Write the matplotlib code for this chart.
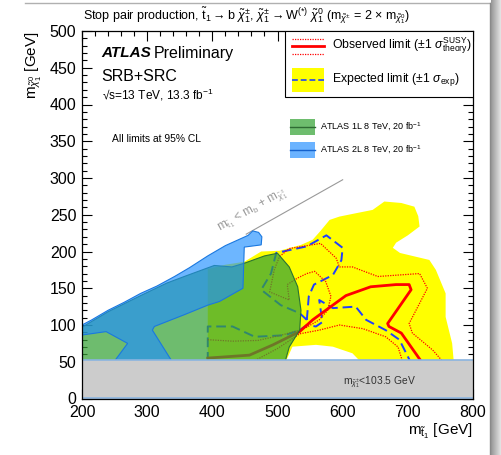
import matplotlib
matplotlib.use("Agg")
import matplotlib.pyplot as plt
import numpy as np
from matplotlib.patches import Rectangle
from matplotlib.lines import Line2D

plt.rcParams['font.family'] = ['Liberation Sans', 'DejaVu Sans']
plt.rcParams['mathtext.fontset'] = 'custom'
plt.rcParams['mathtext.rm'] = 'Liberation Sans'
plt.rcParams['mathtext.it'] = 'Liberation Sans:italic'
plt.rcParams['mathtext.bf'] = 'Liberation Sans:bold'

# ATLAS 2L 8 TeV exclusion contour (m_stop, m_neutralino)
run1_2l_x = [200, 215, 240, 265, 290, 315, 342, 365, 393, 420, 440, 455, 462, 471, 476, 475, 449,
             447, 411, 393, 357, 311, 308, 342, 245, 270, 237, 201, 200]
run1_2l_y = [100, 107, 120, 131, 143, 153, 166, 178, 194, 208, 216, 222, 228, 226, 220, 209, 206,
             150, 132, 127, 114, 98, 93, 45, 45, 75, 91, 86.5, 86.5]

# ATLAS 1L 8 TeV exclusion contour
run1_1l_x = [200, 200, 240, 290, 330, 357, 403, 430, 449, 480, 500, 518, 531, 536, 534, 518, 510]
run1_1l_y = [45, 97, 118, 140, 157, 166, 181, 179, 184, 194, 197.6, 179, 152, 120, 93, 70, 45]

# expected limit +-1 sigma band
exp_band_x = [393, 393, 420, 449, 475, 503, 536, 554, 566, 580, 595, 620, 646, 664, 690, 710, 716,
              718, 700, 682, 677, 688, 733, 743, 758, 758, 768, 771, 633, 615, 585, 559, 523, 510]
exp_band_y = [45, 176, 182, 186, 200, 201, 209, 216, 228, 243, 247.5, 252, 256.6, 268, 266, 261, 248,
              234, 222, 212, 205, 198, 188.5, 175, 143, 111, 75, 45, 45, 61.5, 70.5, 73, 70.5, 45]

# expected limit (two pieces)
exp_x = [393, 393, 431, 465, 511, 534, 545, 559, 569, 564, 585, 620, 636, 666, 687, 704]
exp_y = [50, 98, 98, 84, 86, 93, 100, 98, 104, 134, 123, 125, 107, 93, 80, 50]
exp_loop_x = [545, 548, 556, 585, 598, 600, 575, 545, 498, 490, 475, 505, 534, 545]
exp_loop_y = [107, 139, 155, 168, 188, 205, 222, 207, 198, 170, 148, 127, 116, 107]

# observed limit and +-1 sigma theory
obs_x = [393, 457, 493, 534, 554, 574, 605, 643, 682, 702, 705, 669, 671, 690, 721]
obs_y = [55, 59, 73, 91, 107, 120, 140, 152, 155, 155, 148, 102, 98, 89, 50]
obs_up_x = [393, 431, 470, 505, 534, 545, 564, 577, 582, 574, 557, 545, 531, 515, 518, 488, 495,
            503, 518, 566, 590, 595, 615, 654, 718, 730, 702, 707, 738, 754]
obs_up_y = [80, 78, 79, 86, 93, 97, 107, 120, 139, 159, 173, 170, 164, 155, 134, 145, 175,
            193, 204, 211, 191, 179, 179, 166, 170, 150, 102, 89, 66, 50]
obs_dn_x = [462, 500, 534, 564, 595, 631, 666, 685, 692]
obs_dn_y = [50, 68, 88, 93, 100, 95, 84, 70, 50]

lep_limit = 51.75
mb = 4.8
xticks = [200, 300, 400, 500, 600, 700, 800]
yticks = [0, 50, 100, 150, 200, 250, 300, 350, 400, 450, 500]

RED = '#ff0000'
BLUE = '#1f3fff'
YELLOW = '#ffff00'

fig = plt.figure(figsize=(5.01, 4.55), dpi=100)
ax = fig.add_axes([82 / 501, 1 - 398.5 / 455, 391 / 501, 367.5 / 455])
ax.set_xlim(200, 800)
ax.set_ylim(0, 500)

ax.fill(exp_band_x, exp_band_y, color=YELLOW, lw=0, zorder=1)

ax.plot([452, 600], [(452 - mb) / 2, (600 - mb) / 2], color='#999999', lw=0.8, zorder=1.5)

ax.plot(exp_x, exp_y, color=BLUE, lw=1.4, dashes=(5, 2.5), zorder=2)
ax.plot(exp_loop_x, exp_loop_y, color=BLUE, lw=1.4, dashes=(5, 2.5), zorder=2)
ax.plot(obs_up_x, obs_up_y, color=RED, lw=0.9, ls=(0, (1, 1)), zorder=2)
ax.plot(obs_dn_x, obs_dn_y, color=RED, lw=0.9, ls=(0, (1, 1)), zorder=2)
ax.plot(obs_x, obs_y, color=RED, lw=2.0, zorder=2.1)

ax.fill(run1_1l_x, run1_1l_y, facecolor=(0.22, 0.64, 0.22, 0.73),
        edgecolor=(0.16, 0.45, 0.2), lw=0.8, zorder=3)
ax.fill(run1_2l_x, run1_2l_y, facecolor=(0.12, 0.56, 1.0, 0.65),
        edgecolor=(0.1, 0.47, 0.88), lw=0.8, zorder=4)

ax.axhspan(0, lep_limit, color='#cccccc', lw=0, zorder=5)
ax.axhline(lep_limit, color='#8ab4e0', lw=1.2, zorder=5.1)
ax.axhline(0.6, color='#8ab4e0', lw=1.2, zorder=5.1)
ax.text(600.5, 23, r"m$_{\tilde{\chi}^{\pm}_1}$<103.5 GeV", fontsize=7.4, color='#333333',
        va='center', ha='left', zorder=6)

ax.text(462, 255, r"m$_{\tilde{\mathrm{t}}_1}$ < m$_\mathrm{b}$ + m$_{\tilde{\chi}^{\pm}_1}$",
        fontsize=8.5, color='#999999', rotation=29.4, rotation_mode='anchor',
        ha='center', va='center', zorder=6)

# axes styling
ax.set_xticks(xticks)
ax.set_yticks(yticks)
ax.set_xticks(range(200, 801, 20), minor=True)
ax.set_yticks(range(0, 501, 10), minor=True)
ax.tick_params(which='both', direction='in', top=True, right=True, labelsize=11.5, width=0.8)
ax.tick_params(which='major', length=7.5)
ax.tick_params(which='minor', length=3.8)
ax.tick_params(axis='x', pad=5)
ax.tick_params(axis='y', pad=4)
for sp in ax.spines.values():
    sp.set_linewidth(0.9)
    sp.set_zorder(7)

ax.set_xlabel(r"m$_{\tilde{\mathrm{t}}_1}$ [GeV]", fontsize=11, loc='right', labelpad=1)
ax.set_ylabel(r"m$_{\tilde{\chi}^0_1}$ [GeV]", fontsize=11, loc='top', labelpad=4)

ax.text(0.002, 1.041,
        r"Stop pair production, $\tilde{\mathrm{t}}_1 \rightarrow \mathrm{b}\ \tilde{\chi}^{\pm}_1$, "
        r"$\tilde{\chi}^{\pm}_1 \rightarrow \mathrm{W}^{(*)}\ \tilde{\chi}^0_1$ "
        r"(m$_{\tilde{\chi}^{\pm}}$ = 2 $\times$ m$_{\tilde{\chi}^0_1}$)",
        transform=ax.transAxes, fontsize=9.0, va='center', ha='left')

# ATLAS label block
ax.text(0.050, 0.939, "ATLAS", transform=ax.transAxes, fontsize=11,
        fontweight='bold', fontstyle='italic', va='center', zorder=8)
ax.text(0.183, 0.939, "Preliminary", transform=ax.transAxes, fontsize=11.5, va='center', zorder=8)
ax.text(0.050, 0.876, "SRB+SRC", transform=ax.transAxes, fontsize=11.5, va='center', zorder=8)
ax.text(0.050, 0.826, "\u221as=13 TeV, 13.3 fb$^{-1}$", transform=ax.transAxes,
        fontsize=8.6, va='center', zorder=8)
ax.text(0.076, 0.705, "All limits at 95% CL", transform=ax.transAxes, fontsize=7.4,
        va='center', zorder=8)

# legend for the 13 TeV limits
ax.add_patch(Rectangle((0.519, 0.820), 0.481, 0.18, transform=ax.transAxes,
                       facecolor='white', edgecolor='black', lw=0.8, zorder=8))
ax.add_line(Line2D([0.537, 0.619], [0.959, 0.959], transform=ax.transAxes, color=RED, lw=2.0, zorder=9))
for yy in (0.978, 0.937):
    ax.add_line(Line2D([0.537, 0.619], [yy, yy], transform=ax.transAxes, color=RED, lw=0.9,
                       ls=(0, (1, 1)), zorder=9))
ax.text(0.639, 0.959, r"Observed limit ($\pm$1 $\sigma^{\mathrm{SUSY}}_{\mathrm{theory}}$)",
        transform=ax.transAxes, fontsize=8.8, va='center', zorder=9)
ax.add_patch(Rectangle((0.537, 0.835), 0.082, 0.063, transform=ax.transAxes,
                       facecolor=YELLOW, lw=0, zorder=9))
ax.add_line(Line2D([0.537, 0.619], [0.867, 0.867], transform=ax.transAxes, color='#4060d0',
                   lw=1.4, dashes=(3, 1.5), zorder=9))
ax.text(0.639, 0.869, r"Expected limit ($\pm$1 $\sigma_{\mathrm{exp}}$)",
        transform=ax.transAxes, fontsize=8.8, va='center', zorder=9)

# legend for the 8 TeV results
ax.add_patch(Rectangle((0.532, 0.717), 0.064, 0.043, transform=ax.transAxes,
                       facecolor=(0.43, 0.74, 0.43), lw=0, zorder=9))
ax.add_line(Line2D([0.532, 0.596], [0.739, 0.739], transform=ax.transAxes, color=(0.18, 0.42, 0.2),
                   lw=1.0, zorder=9))
ax.text(0.609, 0.739, "ATLAS 1L 8 TeV, 20 fb$^{-1}$", transform=ax.transAxes, fontsize=6.5,
        va='center', zorder=9)
ax.add_patch(Rectangle((0.532, 0.655), 0.064, 0.044, transform=ax.transAxes,
                       facecolor=(0.42, 0.7, 1.0), lw=0, zorder=9))
ax.add_line(Line2D([0.532, 0.596], [0.676, 0.676], transform=ax.transAxes, color=(0.08, 0.38, 0.8),
                   lw=1.0, zorder=9))
ax.text(0.609, 0.676, "ATLAS 2L 8 TeV, 20 fb$^{-1}$", transform=ax.transAxes, fontsize=6.5,
        va='center', zorder=9)

# window edge around the canvas
fig.add_artist(Line2D([25 / 501, 490 / 501], [1 - 2.5 / 455, 1 - 2.5 / 455],
                      transform=fig.transFigure, color='#b0b0b0', lw=1.0))
fig.add_artist(Line2D([490 / 501, 490 / 501], [0, 1 - 2.5 / 455],
                      transform=fig.transFigure, color='#8a8a8a', lw=1.0))
edge = fig.add_axes([491 / 501, 0, 10 / 501, 1])
edge.imshow(np.linspace(0.6, 0.88, 10)[None, :], cmap='gray', vmin=0, vmax=1,
            aspect='auto', extent=(0, 1, 0, 1))
edge.set_axis_off()

fig.savefig("out.png", dpi=100)
